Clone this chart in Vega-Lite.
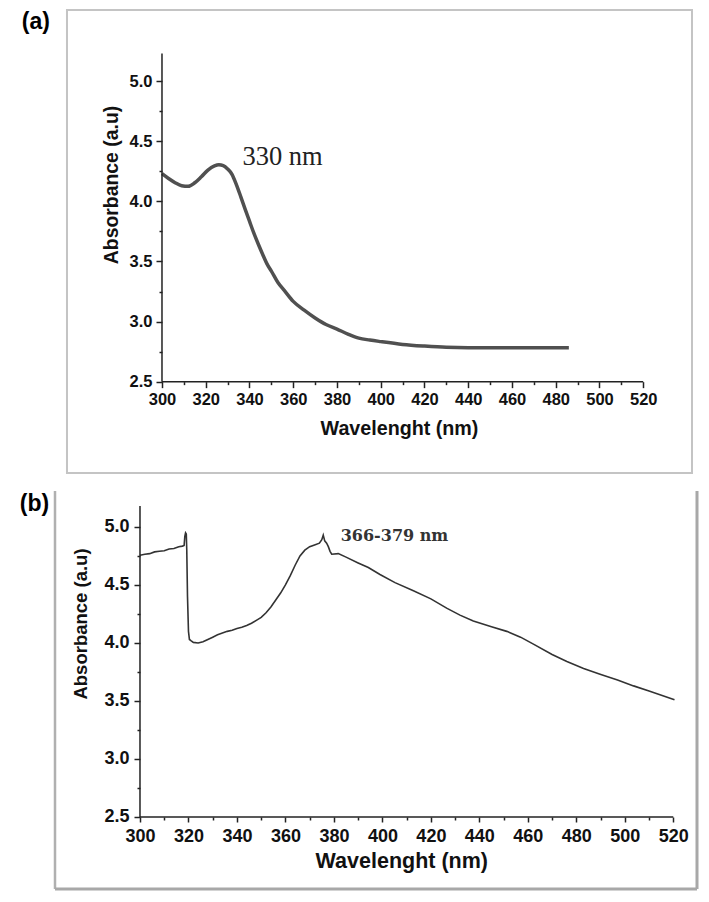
{
  "$schema": "https://vega.github.io/schema/vega-lite/v6.json",
  "background": "white",
  "padding": {"left": 19, "top": 9, "right": 5, "bottom": 5},
  "columns": 1,
  "align": "none",
  "bounds": "full",
  "spacing": 15,
  "concat": [
    {
      "width": 637,
      "height": 463,
      "view": {"stroke": null, "fill": "white"},
      "title": {"text": "(a)", "anchor": "end", "frame": "group", "orient": "left", "angle": 0, "align": "right", "baseline": "top", "offset": -23, "dy": 1, "fontSize": 23, "fontWeight": "bold", "font": "Liberation Sans", "color": "#000000"},
      "resolve": {"axis": {"x": "independent", "y": "independent"}},
      "layer": [
        {
          "data": {"values": [{}]},
          "mark": {"type": "rect", "filled": false, "stroke": "#c4c4c4", "strokeWidth": 2},
          "encoding": {
            "x": {"datum": 256.57, "type": "quantitative", "axis": null},
            "x2": {"datum": 542.3},
            "y": {"datum": 1.74, "type": "quantitative", "axis": null},
            "y2": {"datum": 5.592}
          }
        },
        {
          "data": {"values": [
            {"wavelength": 300, "absorbance": 4.23},
            {"wavelength": 303, "absorbance": 4.19},
            {"wavelength": 306, "absorbance": 4.155},
            {"wavelength": 309, "absorbance": 4.13},
            {"wavelength": 312, "absorbance": 4.125},
            {"wavelength": 315, "absorbance": 4.155},
            {"wavelength": 318, "absorbance": 4.205},
            {"wavelength": 321, "absorbance": 4.26},
            {"wavelength": 324, "absorbance": 4.295},
            {"wavelength": 326, "absorbance": 4.305},
            {"wavelength": 328, "absorbance": 4.298},
            {"wavelength": 330, "absorbance": 4.27},
            {"wavelength": 332, "absorbance": 4.225},
            {"wavelength": 334, "absorbance": 4.14},
            {"wavelength": 336, "absorbance": 4.04},
            {"wavelength": 338, "absorbance": 3.935},
            {"wavelength": 340, "absorbance": 3.835},
            {"wavelength": 342, "absorbance": 3.735},
            {"wavelength": 344, "absorbance": 3.645},
            {"wavelength": 346, "absorbance": 3.56},
            {"wavelength": 348, "absorbance": 3.48},
            {"wavelength": 350, "absorbance": 3.42},
            {"wavelength": 353, "absorbance": 3.325},
            {"wavelength": 356, "absorbance": 3.257},
            {"wavelength": 360, "absorbance": 3.168},
            {"wavelength": 365, "absorbance": 3.095},
            {"wavelength": 370, "absorbance": 3.03},
            {"wavelength": 375, "absorbance": 2.975},
            {"wavelength": 380, "absorbance": 2.937},
            {"wavelength": 385, "absorbance": 2.896},
            {"wavelength": 390, "absorbance": 2.862},
            {"wavelength": 395, "absorbance": 2.846},
            {"wavelength": 400, "absorbance": 2.833},
            {"wavelength": 410, "absorbance": 2.81},
            {"wavelength": 420, "absorbance": 2.796},
            {"wavelength": 430, "absorbance": 2.786},
            {"wavelength": 440, "absorbance": 2.783},
            {"wavelength": 460, "absorbance": 2.783},
            {"wavelength": 486, "absorbance": 2.783}
          ]},
          "mark": {"type": "line", "interpolate": "monotone", "color": "#505050", "strokeWidth": 3.5},
          "encoding": {
            "x": {
              "field": "wavelength", "type": "quantitative",
              "scale": {"domain": [251.09, 542.3], "nice": false, "zero": false},
              "axis": {"orient": "bottom", "offset": -91.35, "values": [300, 320, 340, 360, 380, 400, 420, 440, 460, 480, 500, 520], "domain": false, "grid": false, "tickSize": 6, "tickWidth": 1.5, "tickColor": "#222222", "labelFont": "Liberation Sans", "labelFontWeight": "bold", "labelFontSize": 16.5, "labelColor": "#111111", "labelPadding": 4, "labelFlush": false, "labelOverlap": false, "title": "Wavelenght (nm)", "titleFont": "Liberation Sans", "titleFontWeight": "bold", "titleFontSize": 19.7, "titleColor": "#111111", "titleX": 344, "titleY": 53, "titleBaseline": "alphabetic"}
            },
            "y": {
              "field": "absorbance", "type": "quantitative",
              "scale": {"domain": [1.74, 5.592], "nice": false, "zero": false},
              "axis": {"orient": "left", "offset": -107, "values": [2.5, 3.0, 3.5, 4.0, 4.5, 5.0], "format": ".1f", "domain": false, "grid": false, "tickSize": 6, "tickWidth": 1.5, "tickColor": "#222222", "labelFont": "Liberation Sans", "labelFontWeight": "bold", "labelFontSize": 16.5, "labelColor": "#111111", "labelPadding": 4, "labelOverlap": false, "title": "Absorbance (a.u)", "titleFont": "Liberation Sans", "titleFontWeight": "bold", "titleFontSize": 19.4, "titleColor": "#111111", "titleX": -50.5, "titleY": 174.5, "titleBaseline": "middle"}
            }
          }
        },
        {
          "data": {"values": [{}]},
          "mark": {"type": "rule", "color": "#222222", "strokeWidth": 1.5},
          "encoding": {
            "x": {"datum": 300, "type": "quantitative", "axis": {"orient": "bottom", "offset": -91.35, "values": [310, 330, 350, 370, 390, 410, 430, 450, 470, 490, 510], "labels": false, "domain": false, "grid": false, "tickSize": 3, "tickWidth": 1.5, "tickColor": "#222222", "title": null}},
            "x2": {"datum": 520},
            "y": {"datum": 2.5, "type": "quantitative", "axis": {"orient": "left", "offset": -107, "values": [2.75, 3.25, 3.75, 4.25, 4.75], "labels": false, "domain": false, "grid": false, "tickSize": 3, "tickWidth": 1.5, "tickColor": "#222222", "title": null}}
          }
        },
        {
          "data": {"values": [{}]},
          "mark": {"type": "rule", "color": "#222222", "strokeWidth": 1.5},
          "encoding": {
            "x": {"datum": 300, "type": "quantitative", "axis": null},
            "y": {"datum": 2.5, "type": "quantitative", "axis": null},
            "y2": {"datum": 5.23}
          }
        },
        {
          "data": {"values": [{}]},
          "mark": {"type": "text", "text": "330 nm", "font": "Liberation Serif", "fontSize": 26.5, "color": "#222222", "align": "center", "baseline": "alphabetic"},
          "encoding": {
            "x": {"datum": 355.1, "type": "quantitative", "axis": null},
            "y": {"datum": 4.3, "type": "quantitative", "axis": null}
          }
        }
      ]
    },
    {
      "width": 642,
      "height": 398,
      "view": {"stroke": null, "fill": "white"},
      "title": {"text": "(b)", "anchor": "end", "frame": "group", "orient": "left", "angle": 0, "align": "right", "baseline": "top", "offset": -25, "dy": 2, "fontSize": 23, "fontWeight": "bold", "font": "Liberation Sans", "color": "#000000"},
      "resolve": {"axis": {"x": "independent", "y": "independent"}},
      "layer": [
        {
          "data": {"values": [{}]},
          "mark": {"type": "rule", "color": "#b0b0b0", "strokeWidth": 2.5},
          "encoding": {
            "x": {"datum": 264.94, "type": "quantitative", "axis": null},
            "y": {"datum": 1.879, "type": "quantitative", "axis": null},
            "y2": {"datum": 5.31}
          }
        },
        {
          "data": {"values": [{}]},
          "mark": {"type": "rule", "color": "#a8a8a8", "strokeWidth": 3},
          "encoding": {
            "x": {"datum": 529.78, "type": "quantitative", "axis": null},
            "y": {"datum": 1.879, "type": "quantitative", "axis": null},
            "y2": {"datum": 5.31}
          }
        },
        {
          "data": {"values": [{}]},
          "mark": {"type": "rule", "color": "#a8a8a8", "strokeWidth": 3},
          "encoding": {
            "x": {"datum": 264.94, "type": "quantitative", "axis": null},
            "x2": {"datum": 529.78},
            "y": {"datum": 1.879, "type": "quantitative", "axis": null}
          }
        },
        {
          "data": {"values": [
            {"wavelength": 300, "absorbance": 4.756},
            {"wavelength": 302, "absorbance": 4.765},
            {"wavelength": 304, "absorbance": 4.77},
            {"wavelength": 306, "absorbance": 4.785},
            {"wavelength": 308, "absorbance": 4.79},
            {"wavelength": 310, "absorbance": 4.795},
            {"wavelength": 312, "absorbance": 4.81},
            {"wavelength": 314, "absorbance": 4.815},
            {"wavelength": 316, "absorbance": 4.83},
            {"wavelength": 317.5, "absorbance": 4.835},
            {"wavelength": 318.2, "absorbance": 4.84},
            {"wavelength": 318.5, "absorbance": 4.92},
            {"wavelength": 318.8, "absorbance": 4.95},
            {"wavelength": 319.1, "absorbance": 4.94},
            {"wavelength": 319.3, "absorbance": 4.8},
            {"wavelength": 319.6, "absorbance": 4.4},
            {"wavelength": 320.0, "absorbance": 4.1},
            {"wavelength": 320.4, "absorbance": 4.03},
            {"wavelength": 321, "absorbance": 4.02},
            {"wavelength": 322, "absorbance": 4.005},
            {"wavelength": 324, "absorbance": 4.0},
            {"wavelength": 326, "absorbance": 4.01},
            {"wavelength": 328, "absorbance": 4.03},
            {"wavelength": 330, "absorbance": 4.05},
            {"wavelength": 332, "absorbance": 4.07},
            {"wavelength": 334, "absorbance": 4.085},
            {"wavelength": 336, "absorbance": 4.1},
            {"wavelength": 338, "absorbance": 4.11},
            {"wavelength": 340, "absorbance": 4.125},
            {"wavelength": 342, "absorbance": 4.135},
            {"wavelength": 344, "absorbance": 4.15},
            {"wavelength": 346, "absorbance": 4.17},
            {"wavelength": 348, "absorbance": 4.195},
            {"wavelength": 350, "absorbance": 4.22},
            {"wavelength": 352, "absorbance": 4.26},
            {"wavelength": 354, "absorbance": 4.31},
            {"wavelength": 356, "absorbance": 4.37},
            {"wavelength": 358, "absorbance": 4.43},
            {"wavelength": 360, "absorbance": 4.5},
            {"wavelength": 362, "absorbance": 4.58},
            {"wavelength": 364, "absorbance": 4.67},
            {"wavelength": 366, "absorbance": 4.75},
            {"wavelength": 368, "absorbance": 4.8},
            {"wavelength": 370, "absorbance": 4.83},
            {"wavelength": 372, "absorbance": 4.845},
            {"wavelength": 374, "absorbance": 4.86},
            {"wavelength": 375, "absorbance": 4.89},
            {"wavelength": 375.6, "absorbance": 4.93},
            {"wavelength": 376.2, "absorbance": 4.88},
            {"wavelength": 377, "absorbance": 4.86},
            {"wavelength": 377.7, "absorbance": 4.83},
            {"wavelength": 378.4, "absorbance": 4.79},
            {"wavelength": 379.1, "absorbance": 4.765},
            {"wavelength": 381.8, "absorbance": 4.77},
            {"wavelength": 385, "absorbance": 4.74},
            {"wavelength": 390, "absorbance": 4.69},
            {"wavelength": 394.2, "absorbance": 4.65},
            {"wavelength": 399, "absorbance": 4.59},
            {"wavelength": 405.2, "absorbance": 4.52},
            {"wavelength": 412.8, "absorbance": 4.45},
            {"wavelength": 420, "absorbance": 4.38},
            {"wavelength": 426.5, "absorbance": 4.3},
            {"wavelength": 432, "absorbance": 4.24},
            {"wavelength": 437.5, "absorbance": 4.19},
            {"wavelength": 445, "absorbance": 4.14},
            {"wavelength": 451.3, "absorbance": 4.1},
            {"wavelength": 457, "absorbance": 4.05},
            {"wavelength": 462.3, "absorbance": 3.99},
            {"wavelength": 470, "absorbance": 3.9},
            {"wavelength": 476.1, "absorbance": 3.84},
            {"wavelength": 483, "absorbance": 3.78},
            {"wavelength": 489.8, "absorbance": 3.73},
            {"wavelength": 497, "absorbance": 3.68},
            {"wavelength": 503.6, "absorbance": 3.63},
            {"wavelength": 510, "absorbance": 3.585},
            {"wavelength": 520.5, "absorbance": 3.51}
          ]},
          "mark": {"type": "line", "interpolate": "linear", "color": "#333333", "strokeWidth": 1.6},
          "encoding": {
            "x": {
              "field": "wavelength", "type": "quantitative",
              "scale": {"domain": [264.94, 529.78], "nice": false, "zero": false},
              "axis": {"orient": "bottom", "offset": -72, "values": [300, 320, 340, 360, 380, 400, 420, 440, 460, 480, 500, 520], "domain": false, "grid": false, "tickSize": 5, "tickWidth": 1.5, "tickColor": "#222222", "labelFont": "Liberation Sans", "labelFontWeight": "bold", "labelFontSize": 18, "labelColor": "#111111", "labelPadding": 5, "labelFlush": false, "labelOverlap": false, "title": "Wavelenght (nm)", "titleFont": "Liberation Sans", "titleFontWeight": "bold", "titleFontSize": 21.5, "titleColor": "#111111", "titleX": 346.3, "titleY": 50, "titleBaseline": "alphabetic"}
            },
            "y": {
              "field": "absorbance", "type": "quantitative",
              "scale": {"domain": [1.879, 5.31], "nice": false, "zero": false},
              "axis": {"orient": "left", "offset": -85, "values": [2.5, 3.0, 3.5, 4.0, 4.5, 5.0], "format": ".1f", "domain": false, "grid": false, "tickSize": 6, "tickWidth": 1.5, "tickColor": "#222222", "labelFont": "Liberation Sans", "labelFontWeight": "bold", "labelFontSize": 18, "labelColor": "#111111", "labelPadding": 5, "labelOverlap": false, "title": "Absorbance (a.u)", "titleFont": "Liberation Sans", "titleFontWeight": "bold", "titleFontSize": 18.5, "titleColor": "#111111", "titleX": -59.5, "titleY": 132.5, "titleBaseline": "middle"}
            }
          }
        },
        {
          "data": {"values": [{}]},
          "mark": {"type": "rule", "color": "#222222", "strokeWidth": 1.5},
          "encoding": {
            "x": {"datum": 300, "type": "quantitative", "axis": {"orient": "bottom", "offset": -72, "values": [310, 330, 350, 370, 390, 410, 430, 450, 470, 490, 510], "labels": false, "domain": false, "grid": false, "tickSize": 3, "tickWidth": 1.5, "tickColor": "#222222", "title": null}},
            "x2": {"datum": 520},
            "y": {"datum": 2.5, "type": "quantitative", "axis": {"orient": "left", "offset": -85, "values": [2.75, 3.25, 3.75, 4.25, 4.75], "labels": false, "domain": false, "grid": false, "tickSize": 3, "tickWidth": 1.5, "tickColor": "#222222", "title": null}}
          }
        },
        {
          "data": {"values": [{}]},
          "mark": {"type": "rule", "color": "#222222", "strokeWidth": 1.5},
          "encoding": {
            "x": {"datum": 300, "type": "quantitative", "axis": null},
            "y": {"datum": 2.5, "type": "quantitative", "axis": null},
            "y2": {"datum": 5.18}
          }
        },
        {
          "data": {"values": [{}]},
          "mark": {"type": "text", "text": "366-379 nm", "font": "DejaVu Serif", "fontWeight": "bold", "fontSize": 16, "color": "#333333", "align": "left", "baseline": "alphabetic"},
          "encoding": {
            "x": {"datum": 382.8, "type": "quantitative", "axis": null},
            "y": {"datum": 4.879, "type": "quantitative", "axis": null}
          }
        }
      ]
    }
  ]
}
